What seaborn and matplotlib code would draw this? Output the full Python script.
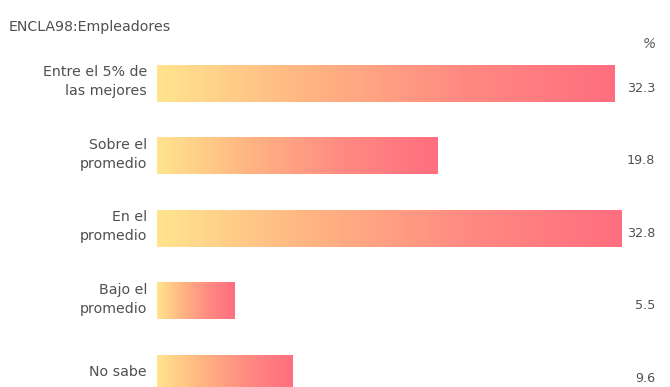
import numpy as np
import pandas as pd
import matplotlib
matplotlib.use("Agg")
import matplotlib.pyplot as plt
import matplotlib.transforms as mtransforms
from matplotlib.colors import LinearSegmentedColormap
import seaborn as sns

title = "ENCLA98:Empleadores"
categories = ["Entre el 5% de\nlas mejores", "Sobre el\npromedio", "En el\npromedio",
              "Bajo el\npromedio", "No sabe"]
values = [32.3, 19.8, 32.8, 5.5, 9.6]
value_labels = ["32.3", "19.8", "32.8", "5.5", "9.6"]
unit_label = "%"

sns.set_theme(style="white")
plt.rcParams["font.family"] = ["DejaVu Sans"]

W, H = 670, 387
fig = plt.figure(figsize=(W / 100, H / 100), dpi=100)
fig.patch.set_facecolor("white")

# axes: bars start at x=157px, ~14.15 px per unit; rows ~72 px apart
left_px, right_px = 157, 640
top_px, bot_px = 47, 387
ax = fig.add_axes([left_px / W, (H - bot_px) / H, (right_px - left_px) / W, (bot_px - top_px) / H])
px_per_unit = 14.15
row_px = 72.5
xlim = (0, (right_px - left_px) / px_per_unit)
ylim = (-0.5 + (bot_px - top_px) / row_px, -0.5)

df = pd.DataFrame({"cat": categories, "val": values})
sns.barplot(data=df, y="cat", x="val", orient="h", ax=ax, width=0.51,
            color="#ff7080", order=categories)

cmap = LinearSegmentedColormap.from_list("warm", ["#ffe48e", "#ffb482", "#ff8a82", "#ff6e7f"])
grad = np.linspace(0, 1, 256).reshape(1, -1)
for patch in ax.patches:
    x0, y0 = patch.get_x(), patch.get_y()
    w, h = patch.get_width(), patch.get_height()
    im = ax.imshow(grad, cmap=cmap, aspect="auto", extent=(x0, x0 + w, y0 + h, y0),
                   interpolation="bicubic", zorder=patch.get_zorder() + 0.1)
    im.set_clip_path(patch)
    patch.set_facecolor("none")
    patch.set_edgecolor("none")
ax.set_xlim(*xlim)
ax.set_ylim(*ylim)

ax.set_xlabel("")
ax.set_ylabel("")
ax.set_xticks([])
ax.set_yticks([])
for s in ax.spines.values():
    s.set_visible(False)
ax.set_facecolor("none")

text_color = "#505050"

# category labels, right-aligned left of the bars
lab_tr = mtransforms.blended_transform_factory(fig.transFigure, ax.transData)
for i, c in enumerate(categories):
    ax.text(147 / W, i - 0.02, c, transform=lab_tr, ha="right", va="center",
            fontsize=10.2, color=text_color, linespacing=1.45, clip_on=False)

# value labels in the right column
for i, v in enumerate(value_labels):
    ax.text(655 / W, i + 0.07, v, transform=lab_tr, ha="right", va="center",
            fontsize=9.2, color=text_color, clip_on=False)

fig.text(649 / W, 1 - 44 / H, unit_label, ha="center", va="center", fontsize=10,
         color="#606060", style="italic")
fig.text(9 / W, 1 - 27 / H, title, ha="left", va="center", fontsize=10.2, color=text_color)

fig.savefig("out.png", dpi=100, facecolor="white")
